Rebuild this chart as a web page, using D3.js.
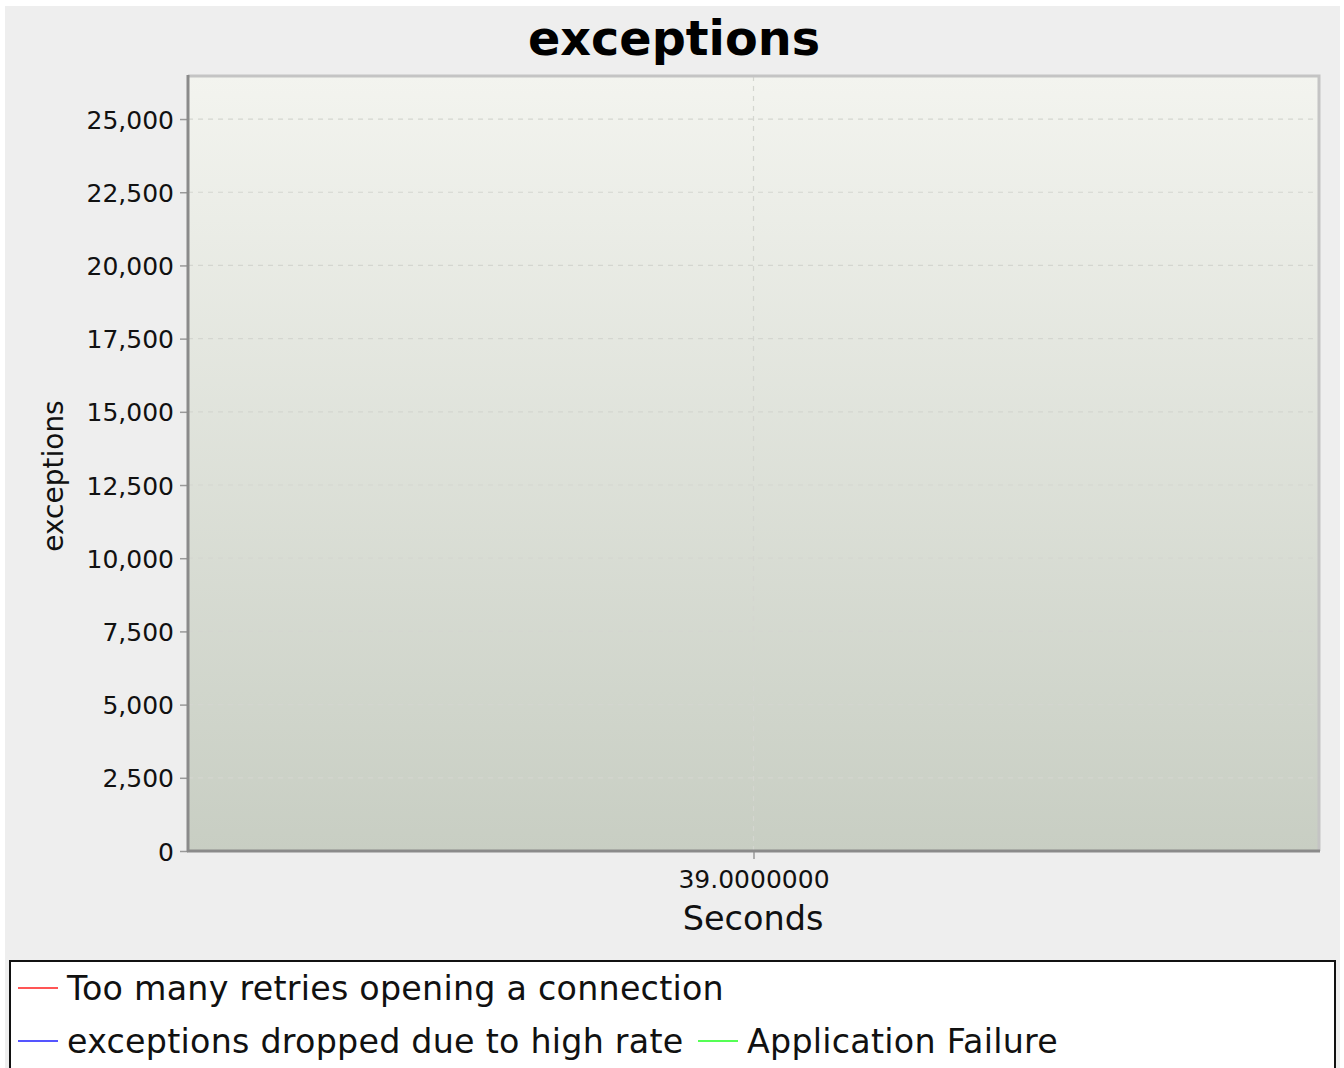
<!DOCTYPE html>
<html><head><meta charset="utf-8">
<script src="https://cdn.jsdelivr.net/npm/d3@7"></script>
<style>html,body{margin:0;padding:0;background:#fff;}svg{display:block;}</style>
</head><body>
<script>
const chartTitle = "exceptions";
const xLabel = "Seconds";
const yLabel = "exceptions";
const yTicks = [0, 2500, 5000, 7500, 10000, 12500, 15000, 17500, 20000, 22500, 25000];
const yMax = 26470;
const xTicks = [39];
const xDomain = [38, 40];
const seriesNames = ["Too many retries opening a connection", "exceptions dropped due to high rate", "Application Failure"];
const seriesColors = ["#ff5555", "#5555ff", "#55ff55"];
const seriesValues = [[], [], []];

const W = 1344, H = 1068;
const font = "DejaVu Sans, sans-serif";
const svg = d3.select("body").append("svg").attr("width", W).attr("height", H);

svg.append("rect").attr("x", 5).attr("y", 6).attr("width", 1335).attr("height", H - 6).attr("fill", "#eeeeee");

const L = 188, R = 1319, T = 76, B = 851;
const x = d3.scaleLinear().domain(xDomain).range([L, R]);
const y = d3.scaleLinear().domain([0, yMax]).range([B, T]);

const defs = svg.append("defs");
const grad = defs.append("linearGradient").attr("id", "bg").attr("x1", 0).attr("y1", 0).attr("x2", 0).attr("y2", 1);
grad.append("stop").attr("offset", "0%").attr("stop-color", "#f3f4ef");
grad.append("stop").attr("offset", "100%").attr("stop-color", "#c8cec3");

svg.append("rect").attr("x", L).attr("y", T).attr("width", R - L).attr("height", B - T).attr("fill", "url(#bg)");

svg.append("g").selectAll("line").data(yTicks.filter(d => d > 0)).join("line")
  .attr("x1", L).attr("x2", R).attr("y1", d => y(d)).attr("y2", d => y(d))
  .attr("stroke", "#d4d6d0").attr("stroke-width", 1.2).attr("stroke-dasharray", "5,5");
svg.append("g").selectAll("line").data(xTicks).join("line")
  .attr("x1", d => x(d)).attr("x2", d => x(d)).attr("y1", T).attr("y2", B)
  .attr("stroke", "#d4d6d0").attr("stroke-width", 1.2).attr("stroke-dasharray", "5,5");

const line = d3.line().x(d => x(d[0])).y(d => y(d[1]));
seriesValues.forEach((vals, i) => {
  if (vals.length) svg.append("path").attr("d", line(vals)).attr("fill", "none").attr("stroke", seriesColors[i]).attr("stroke-width", 2);
});

svg.append("path").attr("d", `M${L},${T}H${R}V${B}`).attr("fill", "none").attr("stroke", "#c4c4c4").attr("stroke-width", 3);

const yAxis = d3.axisLeft(y).tickValues(yTicks).tickFormat(d3.format(",")).tickSize(8).tickPadding(6);
const gy = svg.append("g").attr("transform", `translate(${L},0)`).call(yAxis);
gy.select(".domain").remove();
gy.selectAll(".tick line").attr("stroke", "#999").attr("stroke-width", 1.5);
gy.selectAll("text").attr("font-family", font).attr("font-size", 25).attr("fill", "#111").attr("dy", "0.36em");

const xAxis = d3.axisBottom(x).tickValues(xTicks).tickFormat(d3.format(".7f")).tickSize(8).tickPadding(10);
const gx = svg.append("g").attr("transform", `translate(0,${B})`).call(xAxis);
gx.select(".domain").remove();
gx.selectAll(".tick line").attr("stroke", "#999").attr("stroke-width", 1.5);
gx.selectAll("text").attr("font-family", font).attr("font-size", 25).attr("fill", "#111").attr("dy", "0.75em");

svg.append("line").attr("x1", L).attr("x2", L).attr("y1", T - 1).attr("y2", B + 1).attr("stroke", "#8a8a8a").attr("stroke-width", 3);
svg.append("line").attr("x1", L - 1).attr("x2", R + 1).attr("y1", B).attr("y2", B).attr("stroke", "#8a8a8a").attr("stroke-width", 3);

svg.append("text").attr("x", 674).attr("y", 55).attr("text-anchor", "middle").attr("font-family", font)
  .attr("font-weight", "bold").attr("font-size", 47.7).attr("fill", "#000").text(chartTitle);
svg.append("text").attr("x", 753).attr("y", 930).attr("text-anchor", "middle").attr("font-family", font)
  .attr("font-size", 33.5).attr("fill", "#111").text(xLabel);
svg.append("text").attr("transform", "translate(63,476) rotate(-90)").attr("text-anchor", "middle").attr("font-family", font)
  .attr("font-size", 28).attr("fill", "#111").text(yLabel);

svg.append("rect").attr("x", 10).attr("y", 961).attr("width", 1325).attr("height", 120).attr("fill", "#fff").attr("stroke", "#111").attr("stroke-width", 2);
const legendPos = [[18, 988], [18, 1041], [698, 1041]];
const lg = svg.append("g").selectAll("g").data(seriesNames).join("g")
  .attr("transform", (d, i) => `translate(${legendPos[i][0]},${legendPos[i][1]})`);
lg.append("line").attr("x1", 0).attr("x2", 40).attr("y1", 0).attr("y2", 0).attr("stroke", (d, i) => seriesColors[i]).attr("stroke-width", 2.2);
lg.append("text").attr("x", 49).attr("y", 0).attr("dy", "0.36em").attr("font-family", font).attr("font-size", 33.3)
  .attr("letter-spacing", 0.25).attr("fill", "#111").text(d => d);
</script>
</body></html>
